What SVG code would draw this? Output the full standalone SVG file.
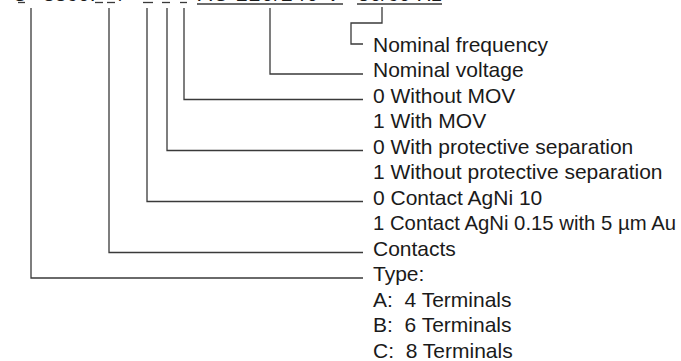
<svg xmlns="http://www.w3.org/2000/svg" width="681" height="361" viewBox="0 0 681 361">
<style>
.t{font-family:"Liberation Sans",Arial,Helvetica,sans-serif;font-size:21px;fill:#1a1a1a;white-space:pre}
.c{fill:none;stroke:#3a3a3a;stroke-width:1.3}
</style>
<rect width="681" height="361" fill="#fff"/>
<g id="code">
<text class="t" x="12" y="1">C</text>
<text class="t" x="43" y="1">3360.</text>
<text class="t" x="119" y="1">/</text>
<text class="t" x="198" y="1" textLength="142" lengthAdjust="spacing">AC 220/240 V</text>
<text class="t" x="358" y="1">50/60 Hz</text>
<g class="c">
<line x1="18" y1="2.5" x2="25" y2="2.5"/>
<line x1="95" y1="2.5" x2="103" y2="2.5"/>
<line x1="107" y1="2.5" x2="115" y2="2.5"/>
<line x1="143" y1="2.5" x2="153" y2="2.5"/>
<line x1="162" y1="2.5" x2="170" y2="2.5"/>
<line x1="180" y1="2.5" x2="187" y2="2.5"/>
<line x1="197" y1="4" x2="343" y2="4"/>
<line x1="357" y1="4" x2="442" y2="4"/>
</g>
</g>
<g id="connectors">
<path class="c" d="M382,7 V23 H351 V44 H363"/>
<path class="c" d="M270,8 V74 H363"/>
<path class="c" d="M184,8 V99.5 H363"/>
<path class="c" d="M167,8 V150.5 H363"/>
<path class="c" d="M147,8 V201.5 H363"/>
<path class="c" d="M109,8 V252.5 H363"/>
<path class="c" d="M31,8 V278 H363"/>
</g>
<g id="frequency"><text class="t" x="373" y="51.5">Nominal frequency</text></g>
<g id="voltage"><text class="t" x="373" y="77">Nominal voltage</text></g>
<g id="mov">
<text class="t" x="373" y="102.5">0 Without MOV</text>
<text class="t" x="373" y="128">1 With MOV</text>
</g>
<g id="separation">
<text class="t" x="373" y="153.5">0 With protective separation</text>
<text class="t" x="373" y="179">1 Without protective separation</text>
</g>
<g id="contact-material">
<text class="t" x="373" y="204.5">0 Contact AgNi 10</text>
<text class="t" x="373" y="230" textLength="303" lengthAdjust="spacingAndGlyphs">1 Contact AgNi 0.15 with 5 µm Au</text>
</g>
<g id="contacts"><text class="t" x="373" y="255.5">Contacts</text></g>
<g id="type">
<text class="t" x="373" y="281">Type:</text>
<text class="t" x="373" y="306.5" xml:space="preserve">A:  4 Terminals</text>
<text class="t" x="373" y="332" xml:space="preserve">B:  6 Terminals</text>
<text class="t" x="373" y="357.5" xml:space="preserve">C:  8 Terminals</text>
</g>
</svg>
